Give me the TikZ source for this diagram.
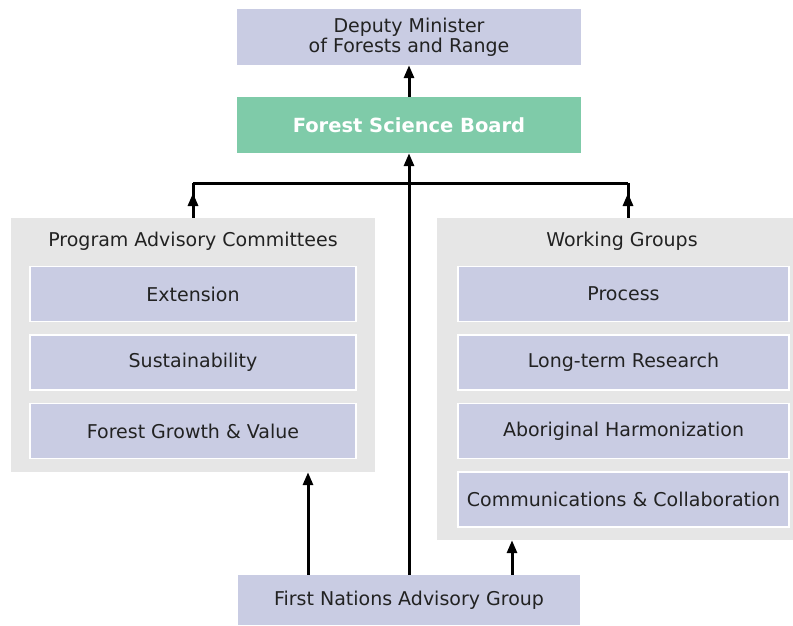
\documentclass[tikz,border=0pt]{standalone}
\usepackage{fontspec}
\setmainfont{DejaVu Sans}
\usetikzlibrary{arrows.meta,positioning,calc}
\definecolor{lav}{HTML}{C9CCE3}
\definecolor{board}{HTML}{7FCBA9}
\definecolor{grp}{HTML}{E6E6E6}
\definecolor{ink}{HTML}{222222}

\begin{document}
\begin{tikzpicture}[
	x=1pt, y=-1pt,
	txt/.style={font=\fontsize{19}{21}\selectfont, text=ink},
	box/.style={txt, fill=lav, inner sep=0pt, align=center, minimum width=344pt, minimum height=56pt},
	grpbox/.style={fill=grp, inner sep=0pt},
	unit/.style={txt, fill=lav, draw=white, line width=1.5pt, inner sep=0pt, minimum height=55pt},
	arr/.style={-{Triangle[length=13pt,width=10pt]}, line width=3pt},
	link/.style={line width=3pt}
	]
	\useasboundingbox (0,0) rectangle (793,625);

	% top of the chart
	\node[box] (dm) at (409,37) {Deputy Minister\\[-1pt]of Forests and Range};
	\node[box, fill=board, text=white, font=\fontsize{19.5}{22}\selectfont\bfseries] (fsb) at (409,125) {Forest Science Board};

	% the two groups
	\node[grpbox, minimum width=364pt, minimum height=254pt] (pac) at (193,345) {};
	\node[txt] (pact) at (193,241) {Program Advisory Committees};
	\node[unit, minimum width=326pt] (ext) at (193,294) {Extension};
	\node[unit, minimum width=326pt, below=12pt of ext] (sus) {Sustainability};
	\node[unit, minimum width=326pt, below=12pt of sus] (fgv) {Forest Growth \& Value};

	\node[grpbox, minimum width=356pt, minimum height=322pt] (wg) at (615,379) {};
	\node[txt] (wgt) at (622,241) {Working Groups};
	\node[unit, minimum width=331pt] (proc) at (623.5,294) {Process};
	\node[unit, minimum width=331pt, below=12pt of proc] (ltr) {Long-term Research};
	\node[unit, minimum width=331pt, below=12pt of ltr] (ah) {Aboriginal Harmonization};
	\node[unit, minimum width=331pt, below=12pt of ah] (cc) {Communications \& Collaboration};

	% bottom
	\node[box, minimum width=342pt, minimum height=50pt] (fnag) at (409,600) {First Nations Advisory Group};

	% connectors
	\coordinate (barL) at (193,183);
	\coordinate (barR) at (628,183);
	\coordinate (tipL) at (193,193);
	\coordinate (tipR) at (628,193);
	\coordinate (upL) at (308,0);
	\coordinate (upR) at (512,0);

	\draw[arr] (fsb) -- (dm);
	\draw[arr] (fnag.north) -- (fsb.south);
	\draw[link] (barL) -- (barR);
	\draw[link] (pac.north -| barL) -- (barL);
	\draw[arr] (pac.north -| barL) -- (tipL);
	\draw[link] (wg.north -| barR) -- (barR);
	\draw[arr] (wg.north -| barR) -- (tipR);
	\draw[arr] (fnag.north -| upL) -- (pac.south -| upL);
	\draw[arr] (fnag.north -| upR) -- (wg.south -| upR);
\end{tikzpicture}
\end{document}
